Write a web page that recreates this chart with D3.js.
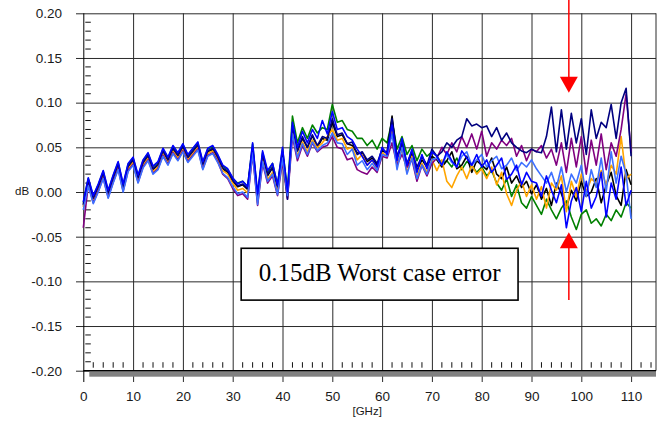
<!DOCTYPE html>
<html><head><meta charset="utf-8">
<script src="https://cdn.jsdelivr.net/npm/d3@7"></script>
<style>body{margin:0;background:#fff}svg{display:block}</style>
</head><body>
<svg id="c" width="657" height="421"></svg>
<script>
// ---- data (values in milli-dB, frequency in GHz) ----
const freqs = d3.range(0, 111);
const green = [-12,15,-5,8,23,1,18,33,8,31,38,
 18,35,43,28,33,48,38,51,43,53,
 41,48,55,33,48,51,41,29,25,15,
 10,12,6,54,-4,44,22,32,8,48,
 2,85,55,72,60,75,66,72,70,98,
 78,80,70,68,60,60,52,58,48,60,
 55,80,48,62,42,52,35,48,40,45,
 40,32,35,28,38,25,34,30,22,28,
 18,24,10,2,15,-5,8,-12,-18,-5,
 -15,-25,-8,-20,-30,-18,-10,-28,-42,-25,
 -20,-35,-30,-38,-25,-32,-20,-28,-12,-18];
const black = [-15,12,-8,5,20,-2,15,30,5,28,35,
 15,32,40,25,30,45,35,48,40,50,
 38,45,52,30,45,48,38,26,22,12,
 6,8,3,49,-8,40,18,27,4,44,
 -2,70,46,60,50,63,50,60,58,78,
 62,64,54,52,44,43,34,38,30,46,
 44,85,38,52,28,44,24,36,28,40,
 36,28,35,45,26,30,40,22,35,30,
 25,38,20,15,28,10,18,5,12,-2,
 8,-8,4,-15,10,-2,-18,2,-10,12,
 -5,0,15,-12,8,22,-4,-15,25,8];
const orange = [-17,10,-10,3,18,-4,13,28,3,26,33,
 13,30,38,23,28,43,33,46,38,48,
 36,43,50,28,43,46,36,24,20,10,
 2,4,-1,46,-12,36,14,22,0,40,
 -6,72,40,56,45,58,50,55,62,70,
 58,60,48,50,36,42,30,36,26,44,
 40,70,30,48,22,40,18,32,22,36,
 24,36,12,5,18,28,15,30,20,26,
 15,28,8,22,-2,-15,2,12,-5,8,
 -8,6,-18,10,2,18,-22,12,-5,20,
 0,15,10,24,8,30,20,62,15,20];
const purple = [-40,8,-12,1,16,-6,11,26,1,24,31,
 11,28,36,21,26,41,31,44,36,46,
 34,41,48,26,41,44,34,20,15,4,
 -4,-2,-8,42,-15,32,10,18,-4,34,
 -8,62,35,52,40,55,45,50,52,62,
 50,48,36,38,25,22,20,28,22,40,
 38,55,30,42,28,36,12,30,18,32,
 38,50,42,55,45,62,50,65,48,68,
 40,55,48,58,52,60,40,52,35,48,
 45,52,38,48,30,55,22,60,28,62,
 20,58,30,65,25,55,40,70,110,45];
const navy = [-14,13,-7,6,21,-1,16,31,6,29,36,
 16,33,41,26,31,46,36,49,41,51,
 39,46,53,31,46,49,39,27,23,13,
 7,9,4,50,-6,42,20,28,6,45,
 -8,74,46,62,50,64,52,62,60,82,
 64,66,54,56,42,45,36,40,32,48,
 44,82,40,55,32,46,28,40,30,48,
 40,45,55,50,58,62,82,74,76,72,
 74,62,72,58,66,55,50,46,44,48,
 45,44,62,95,45,92,48,88,55,82,
 42,92,60,78,72,98,60,100,116,40];
const lightBlue = [-20,7,-13,0,15,-7,10,25,0,23,30,
 10,27,35,20,25,40,30,43,35,45,
 33,40,47,25,40,43,33,21,16,6,
 -2,0,-6,44,-14,34,12,20,-3,38,
 -4,65,38,54,42,56,46,52,55,66,
 55,54,42,48,30,35,25,32,24,42,
 40,65,25,50,20,38,15,30,20,36,
 38,30,42,33,28,40,45,30,36,42,
 28,35,40,26,30,38,24,33,28,36,
 26,18,10,22,5,28,0,20,10,30,
 -5,25,5,38,0,45,10,40,20,-30];
const blue = [-11,16,-4,9,24,2,19,34,9,32,39,
 19,36,44,29,34,49,39,52,44,54,
 42,49,56,34,49,52,42,30,26,16,
 9,12,6,55,-2,46,24,32,8,50,
 0,78,50,68,55,70,60,80,65,90,
 70,72,62,58,48,40,30,36,28,50,
 42,75,35,60,30,48,22,42,26,45,
 40,30,45,35,28,46,38,30,42,28,
 36,22,30,38,14,20,30,8,22,12,
 10,-5,18,2,-12,8,-40,-10,5,-22,
 12,-18,-5,22,-28,10,-8,28,-15,2];

const seriesNames  = ["green","black","orange","purple","navy","lightBlue","blue"];
const seriesValues = [green, black, orange, purple, navy, lightBlue, blue];
const seriesColors = ["#008000","#000000","#FFA500","#800080","#000080","#3D6FFF","#0000FF"];

const yTickValues = [-200,-150,-100,-50,0,50,100,150,200];
const yTickLabels = ["-0.20","-0.15","-0.10","-0.05","0.00","0.05","0.10","0.15","0.20"];
const xTickValues = [0,10,20,30,40,50,60,70,80,90,100,110];
const xTickLabels = ["0","10","20","30","40","50","60","70","80","90","100","110"];
const yMinorTicks = d3.range(-190, 200, 10).filter(v => v % 50 !== 0);
const xMinorTicks = d3.range(2, 115, 2).filter(v => v % 10 !== 0);

const annotationText = "0.15dB Worst case error";
const arrowFreq = 97.5;          // GHz
const arrowTopTip = 111, arrowBottomTip = -45;  // mdB
const boxF = [31.7, 87.3], boxV = [-63, -121];

// ---- layout ----
const svg = d3.select("#c");
const L = 83.3, R = 656, T = 13.3, B = 370.7;
const x = d3.scaleLinear().domain([0, 115]).range([L, R]);
const y = d3.scaleLinear().domain([-200, 200]).range([B, T]);
const sans = "'Liberation Sans', Arial, Helvetica, sans-serif";
const gridCol = "#2a2a2a";

svg.append("rect").attr("width", 657).attr("height", 421).attr("fill", "#fff");

const yAx = svg.append("g").attr("transform", `translate(76,0)`)
  .call(d3.axisLeft(y).tickValues(yTickValues)
    .tickFormat((d, i) => yTickLabels[i])
    .tickSizeInner(-(R - 76)).tickSizeOuter(0).tickPadding(14));
yAx.select(".domain").remove();
yAx.selectAll(".tick line").attr("stroke", gridCol).attr("stroke-width", 1);
yAx.selectAll("text").attr("font-family", sans).attr("font-size", 13.5).attr("fill", "#1a1a1a");

const xAx = svg.append("g").attr("transform", `translate(0,382)`)
  .call(d3.axisBottom(x).tickValues(xTickValues)
    .tickFormat((d, i) => xTickLabels[i])
    .tickSizeInner(-(382 - T)).tickSizeOuter(0).tickPadding(9));
xAx.select(".domain").remove();
xAx.selectAll(".tick line").attr("stroke", gridCol).attr("stroke-width", 1);
xAx.selectAll(".tick").filter(d => d === 0).select("line").attr("stroke", "#000");
xAx.selectAll("text").attr("font-family", sans).attr("font-size", 13.5).attr("fill", "#1a1a1a");

svg.append("line").attr("x1", R).attr("x2", R).attr("y1", T).attr("y2", B)
  .attr("stroke", gridCol).attr("stroke-width", 1);

svg.append("g").selectAll("line").data(yMinorTicks).join("line")
  .attr("x1", L + 2).attr("x2", L + 7.5)
  .attr("y1", d => y(d)).attr("y2", d => y(d))
  .attr("stroke", "#111").attr("stroke-width", 1);
svg.append("g").selectAll("line").data(xMinorTicks).join("line")
  .attr("x1", d => x(d)).attr("x2", d => x(d))
  .attr("y1", B - 8.5).attr("y2", B - 3)
  .attr("stroke", "#111").attr("stroke-width", 1);

svg.append("rect").attr("x", L + 6).attr("y", B).attr("width", R - L - 6).attr("height", 6)
  .attr("fill", "#808080");
svg.append("line").attr("x1", L).attr("x2", R).attr("y1", B).attr("y2", B)
  .attr("stroke", "#000").attr("stroke-width", 1.2);

svg.append("text").attr("x", 15).attr("y", 195).text("dB")
  .attr("font-family", sans).attr("font-size", 11.5).attr("fill", "#1a1a1a");
svg.append("text").attr("x", x(57)).attr("y", 415).attr("text-anchor", "middle").text("[GHz]")
  .attr("font-family", sans).attr("font-size", 11.5).attr("fill", "#1a1a1a");

const line = d3.line().x((d, i) => x(freqs[i])).y(d => y(d));
svg.append("g").selectAll("path").data(seriesValues).join("path")
  .attr("d", d => line(d))
  .attr("fill", "none")
  .attr("stroke", (d, i) => seriesColors[i])
  .attr("stroke-width", 1.6)
  .attr("stroke-linejoin", "round");

svg.append("rect")
  .attr("x", x(boxF[0])).attr("y", y(boxV[0]))
  .attr("width", x(boxF[1]) - x(boxF[0])).attr("height", y(boxV[1]) - y(boxV[0]))
  .attr("fill", "#fff").attr("stroke", "#000").attr("stroke-width", 1.6);
svg.append("text").attr("x", (x(boxF[0]) + x(boxF[1])) / 2).attr("y", y(boxV[0]) + 33)
  .attr("text-anchor", "middle").text(annotationText)
  .attr("font-family", "'Liberation Serif', 'Times New Roman', serif").attr("font-size", 25).attr("fill", "#000");

const ax = x(arrowFreq), red = "#FF0000";
const tTip = y(arrowTopTip), bTip = y(arrowBottomTip);
svg.append("line").attr("x1", ax).attr("x2", ax).attr("y1", 0).attr("y2", tTip - 14)
  .attr("stroke", red).attr("stroke-width", 1.5);
svg.append("path").attr("d", `M${ax - 9},${tTip - 16}L${ax + 9},${tTip - 16}L${ax},${tTip}Z`).attr("fill", red);
svg.append("line").attr("x1", ax).attr("x2", ax).attr("y1", bTip + 14).attr("y2", y(boxV[1]))
  .attr("stroke", red).attr("stroke-width", 1.5);
svg.append("path").attr("d", `M${ax - 9},${bTip + 16}L${ax + 9},${bTip + 16}L${ax},${bTip}Z`).attr("fill", red);
</script>
</body></html>
